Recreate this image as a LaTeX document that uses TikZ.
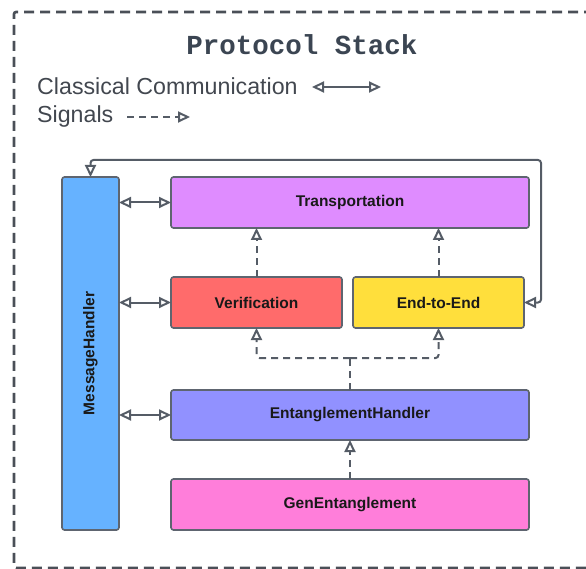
\documentclass[tikz,border=0pt]{standalone}
\usepackage{fontspec}
\setmainfont{Liberation Sans}
\newfontfamily\titlefont{Liberation Mono}
\usetikzlibrary{arrows.meta}

\definecolor{frameC}{HTML}{4A4F57}
\definecolor{lineC}{HTML}{555C66}
\definecolor{edgeC}{HTML}{5E6570}
\definecolor{titleC}{HTML}{3B4552}
\definecolor{legendC}{HTML}{42474F}
\definecolor{msgC}{HTML}{66B2FF}
\definecolor{transC}{HTML}{DF8CFF}
\definecolor{verC}{HTML}{FF6B6B}
\definecolor{e2eC}{HTML}{FFDF3C}
\definecolor{entC}{HTML}{9191FF}
\definecolor{genC}{HTML}{FF7EDA}

\tikzset{
  layer/.style={draw=edgeC, line width=1.6pt, rounded corners=2.5pt,
    font=\bfseries\fontsize{15.5}{18}\selectfont, text=black!90,
    inner sep=0pt, outer sep=0pt},
  classical/.style={draw=lineC, line width=2pt,
    {Triangle[open, length=12pt, width=11pt]}-{Triangle[open, length=12pt, width=11pt]}},
  signal/.style={draw=lineC, line width=2pt, dash pattern=on 7pt off 5pt,
    -{Triangle[open, length=12pt, width=11pt]}},
  sigline/.style={draw=lineC, line width=2pt, dash pattern=on 7pt off 5pt},
  legendtext/.style={font=\fontsize{23.2}{26}\selectfont, text=legendC, anchor=west, inner sep=0pt},
}

\begin{document}
\begin{tikzpicture}[x=1pt, y=-1pt]
\useasboundingbox (0,0) rectangle (586,569);

% outer frame of the protocol stack
\draw[frameC, line width=2.6pt, dash pattern=on 10pt off 6pt, rounded corners=2pt]
  (610,12) -- (14,12) -- (14,568) -- (610,568);

% title and legend
\node[font=\titlefont\bfseries\fontsize{27.5}{30}\selectfont, text=titleC] (title) at (302,45) {Protocol Stack};
\node[legendtext] (lgClassical) at (37,86) {Classical Communication};
\node[legendtext] (lgSignals) at (37,117) {Signals};
\coordinate (cA) at (312,87);
\coordinate (cB) at (381,87);
\coordinate (sA) at (127,117);
\coordinate (sB) at (190,117);
\draw[classical] (cA) -- (cB);
\draw[signal] (sA) -- (sB);

% layers
\node[layer, fill=msgC, minimum width=57pt, minimum height=353pt] (msg) at (90.5,353.5)
  {\rotatebox{90}{MessageHandler}};
\node[layer, fill=transC, minimum width=358pt, minimum height=51pt] (trans) at (350,202.5) {Transportation};
\node[layer, fill=verC, minimum width=171pt, minimum height=51pt] (verif) at (256.5,302.5) {Verification};
\node[layer, fill=e2eC, minimum width=171pt, minimum height=51pt] (e2e) at (438.5,302.5) {End-to-End};
\node[layer, fill=entC, minimum width=358pt, minimum height=50pt] (ent) at (350,415) {EntanglementHandler};
\node[layer, fill=genC, minimum width=358pt, minimum height=51pt] (gen) at (350,504.5) {GenEntanglement};

% classical links to the message handler
\draw[classical] (msg.east |- trans.west) -- (trans.west);
\draw[classical] (msg.east |- verif.west) -- (verif.west);
\draw[classical] (msg.east |- ent.west) -- (ent.west);

% loop from message handler to end-to-end layer
\coordinate (loopR) at (541,160);
\draw[classical, rounded corners=3pt] (msg.north) |- (loopR) |- (e2e.east);

% signals
\draw[signal] (verif.north) -- (verif.north |- trans.south);
\draw[signal] (e2e.north) -- (e2e.north |- trans.south);
\coordinate (split) at (350,358);
\draw[sigline] (ent.north) -- (split);
\draw[signal, rounded corners=3pt] (split) -| (verif.south);
\draw[signal, rounded corners=3pt] (split) -| (e2e.south);
\draw[signal] (gen.north) -- (ent.south);
\end{tikzpicture}
\end{document}
